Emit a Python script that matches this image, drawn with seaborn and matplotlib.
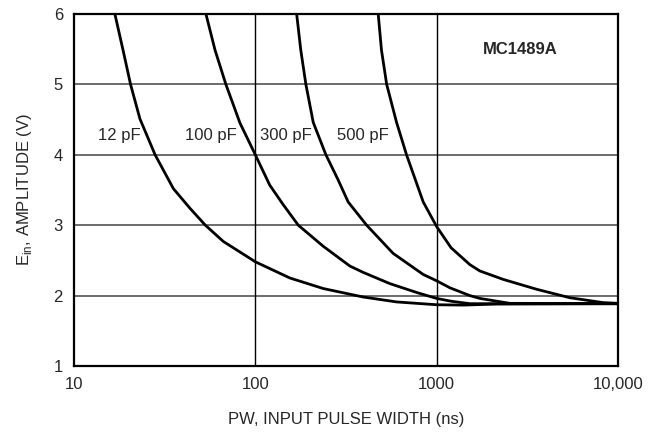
import pandas as pd
import matplotlib.pyplot as plt
import seaborn as sns

# curve data (PW in ns, E_in in V)
pw_12 = [16.8, 18.7, 20.5, 23.1, 28.0, 35.3, 43.6, 53, 66.5, 100, 155, 237, 332, 393, 601,
         1000, 1400, 2140, 10000]
ein_12 = [6.0, 5.47, 5.0, 4.51, 4.0, 3.52, 3.24, 3.0, 2.77, 2.48, 2.25, 2.10, 2.02, 1.98, 1.91,
          1.87, 1.865, 1.88, 1.885]

pw_100 = [53.4, 59.9, 68.8, 82.3, 100, 120, 142.6, 172.5, 237, 332, 393, 552, 785, 1000,
          1200, 1524, 2000, 10000]
ein_100 = [6.0, 5.49, 5.0, 4.45, 4.0, 3.57, 3.29, 3.0, 2.70, 2.42, 2.33, 2.17, 2.04, 1.96,
           1.92, 1.885, 1.885, 1.885]

pw_300 = [169, 178, 190, 208.6, 245, 286.6, 325, 411, 575, 843, 1000, 1185, 1524, 1730,
          2530, 10000]
ein_300 = [6.0, 5.49, 5.0, 4.46, 4.0, 3.64, 3.33, 3.0, 2.60, 2.30, 2.21, 2.11, 2.0, 1.96,
           1.89, 1.885]

pw_500 = [476, 496, 530, 601, 682, 843, 1000, 1200, 1524, 1730, 2328, 3556, 5420, 8280, 10000]
ein_500 = [6.0, 5.49, 5.0, 4.46, 4.0, 3.33, 2.98, 2.68, 2.44, 2.35, 2.23, 2.09, 1.97, 1.90,
           1.89]

curve_names = ["12 pF", "100 pF", "300 pF", "500 pF"]
label_x = [13.6, 40.9, 106, 282]
label_y = 4.28

xticks = [10, 100, 1000, 10000]
xtick_labels = ["10", "100", "1000", "10,000"]
yticks = [1, 2, 3, 4, 5, 6]

frames = []
for name, xs, ys in zip(curve_names, [pw_12, pw_100, pw_300, pw_500],
                        [ein_12, ein_100, ein_300, ein_500]):
    frames.append(pd.DataFrame({"pw": xs, "ein": ys, "cap": name}))
df = pd.concat(frames, ignore_index=True)

sns.set_style("white")
plt.rcParams["font.family"] = ["Liberation Sans", "DejaVu Sans"]
plt.rcParams["mathtext.fontset"] = "custom"
plt.rcParams["mathtext.rm"] = "Liberation Sans"

fig = plt.figure(figsize=(6.51, 4.32), dpi=100)
ax = fig.add_axes([0.1137, 0.1528, 0.8356, 0.8148])

sns.lineplot(data=df, x="pw", y="ein", hue="cap", palette=["black"] * 4,
             estimator=None, sort=False, legend=False, linewidth=2.0, ax=ax)
for ln in ax.lines:
    ln.set_solid_joinstyle("round")
    ln.set_solid_capstyle("round")

ax.set_xscale("log")
ax.set_xlim(10, 10000)
ax.set_ylim(1, 6)
ax.set_xticks(xticks)
ax.set_xticklabels(xtick_labels)
ax.set_yticks(yticks)
ax.minorticks_off()
ax.tick_params(axis="both", length=0, labelsize=12, pad=8)

for yv in [2, 3, 4, 5]:
    ax.axhline(yv, color="#444444", linewidth=1.1, zorder=1)
for xv in [100, 1000]:
    ax.axvline(xv, color="black", linewidth=1.0, zorder=1)

for sp in ax.spines.values():
    sp.set_color("black")
    sp.set_linewidth(1.6)

for name, lx in zip(curve_names, label_x):
    ax.text(lx, label_y, name, fontsize=12, ha="left", va="center")
ax.text(2875, 5.49, "MC1489A", fontsize=12, fontweight="bold", ha="center", va="center")

ax.set_xlabel("PW, INPUT PULSE WIDTH (ns)", fontsize=12, labelpad=14)
ax.set_ylabel(r"E$_{\rm in}$, AMPLITUDE (V)", fontsize=12, labelpad=14)

fig.savefig("out.png", dpi=100)
